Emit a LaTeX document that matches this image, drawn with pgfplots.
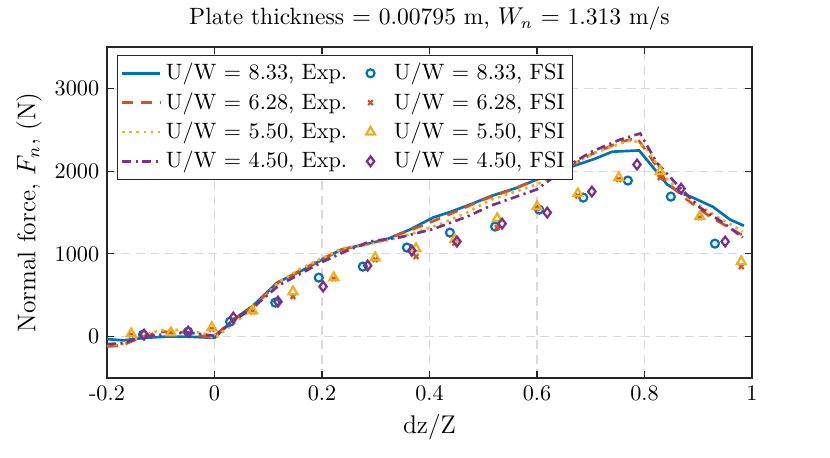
\documentclass[border=0pt]{standalone}
\usepackage{pgfplots}
\pgfplotsset{compat=1.18}
\definecolor{mblue}{rgb}{0,0.447,0.741}
\definecolor{morange}{rgb}{0.85,0.325,0.098}
\definecolor{myellow}{rgb}{0.929,0.694,0.125}
\definecolor{mpurple}{rgb}{0.494,0.184,0.556}
\definecolor{maxis}{rgb}{0.15,0.15,0.15}
\pgfplotsset{fsimark/.style={legend image code/.code={\path[draw=none,fill=none] (0cm,0cm) -- (0.6cm,0cm); \draw[##1,only marks] plot coordinates {(0.3cm,0cm)};}}}
\begin{document}
\begin{tikzpicture}
\begin{axis}[
  at={(0,0)}, anchor=south west,
  scale only axis, width=290.25pt, height=148.95pt,
  xmin=-0.2, xmax=1.0, ymin=-500, ymax=3500,
  xtick={-0.2,0,0.2,0.4,0.6,0.8,1},
  xticklabels={\textrm{-0.2},0,0.2,0.4,0.6,0.8,1},
  ytick={0,1000,2000,3000},
  /pgf/number format/1000 sep={},
  tick align=inside, major tick length=3pt,
  axis line style={maxis, line width=0.5pt},
  every tick/.style={maxis, line width=0.5pt},
  grid=major,
  major grid style={gray!30, dash pattern=on 4pt off 2.5pt, line width=0.5pt},
  title={Plate thickness $=$ 0.00795 m, $W_n$ $=$ 1.313 m/s},
  title style={font=\fontsize{10.6}{12}\selectfont, yshift=-2pt},
  xlabel={dz/Z}, ylabel={Normal force, $F_n$, (N)},
  xlabel style={font=\fontsize{11.5}{13}\selectfont, yshift=1pt},
  ylabel style={font=\fontsize{11.5}{13}\selectfont, yshift=-1pt},
  legend columns=2,
  legend style={at={(0.0155,0.976)}, anchor=north west, draw=maxis, line width=0.5pt,
    font=\normalsize, row sep=0.2pt, inner sep=1.5pt,
    /tikz/every even column/.append style={column sep=0pt}},
  legend cell align=left,
]
\addplot[mblue, line width=1.2pt] coordinates {
(-0.2,-30) (-0.17,-45) (-0.13,-15) (-0.09,0) (-0.05,0) (0.0,-15) (0.034,200) (0.072,375)
(0.116,650) (0.16,790) (0.2,930) (0.235,1050) (0.276,1110) (0.32,1175) (0.364,1295)
(0.407,1440) (0.44,1510) (0.481,1610) (0.515,1700) (0.563,1800) (0.6,1900) (0.667,2060)
(0.708,2150) (0.74,2235) (0.79,2250) (0.842,1840) (0.866,1740) (0.89,1680) (0.927,1570)
(0.959,1415) (0.985,1340)};
\addlegendentry{U/W $=$ 8.33, Exp.}
\addplot[only marks, mark=o, mark size=1.8pt, mblue, line width=1pt, fsimark] coordinates {
(-0.133,24) (-0.049,60) (0.029,181) (0.113,411) (0.194,713) (0.276,846) (0.358,1076)
(0.438,1257) (0.522,1330) (0.604,1535) (0.686,1680) (0.769,1886) (0.849,1692) (0.931,1124)};
\addlegendentry{U/W $=$ 8.33, FSI}
\addplot[morange, line width=1.2pt, dash pattern=on 5pt off 3.5pt] coordinates {
(-0.2,-120) (-0.17,-100) (-0.13,10) (-0.1,60) (-0.05,50) (-0.005,-20) (0.034,200) (0.075,380)
(0.12,660) (0.16,800) (0.2,940) (0.24,1060) (0.28,1110) (0.32,1180) (0.382,1330) (0.438,1480)
(0.494,1640) (0.55,1770) (0.6,1900) (0.667,2080) (0.7,2200) (0.754,2350) (0.786,2400)
(0.81,2180) (0.842,1860) (0.879,1655) (0.922,1450) (0.981,1230)};
\addlegendentry{U/W $=$ 6.28, Exp.}
\addplot[only marks, mark=x, mark size=1.5pt, morange, line width=1pt, fsimark] coordinates {
(-0.155,20) (-0.081,40) (-0.005,90) (0.071,300) (0.146,484) (0.222,700) (0.299,930)
(0.375,967) (0.447,1130) (0.526,1318) (0.6,1550) (0.676,1700) (0.752,1900) (0.829,1922)
(0.903,1440) (0.98,846)};
\addlegendentry{U/W $=$ 6.28, FSI}
\addplot[myellow, line width=1.2pt, dotted] coordinates {
(-0.2,-100) (-0.17,-90) (-0.13,20) (-0.1,80) (-0.06,80) (-0.02,40) (0.0,-20) (0.034,150)
(0.075,360) (0.12,660) (0.16,820) (0.2,950) (0.24,1070) (0.28,1110) (0.32,1160) (0.37,1250)
(0.42,1360) (0.47,1500) (0.513,1650) (0.6,1840) (0.667,2080) (0.7,2200) (0.754,2330) (0.779,2380)
(0.805,2260) (0.842,1900) (0.885,1655) (0.935,1450) (0.983,1270)};
\addlegendentry{U/W $=$ 5.50, Exp.}
\addplot[only marks, mark=triangle, mark size=2.3pt, myellow, line width=1pt, fsimark] coordinates {
(-0.155,36) (-0.081,48) (-0.005,109) (0.071,314) (0.146,544) (0.222,713) (0.299,955)
(0.375,1064) (0.447,1173) (0.526,1427) (0.6,1572) (0.676,1729) (0.752,1922) (0.829,1995)
(0.903,1451) (0.98,907)};
\addlegendentry{U/W $=$ 5.50, FSI}
\addplot[mpurple, line width=1.2pt, dash pattern=on 4pt off 2pt on 1pt off 2pt] coordinates {
(-0.2,-90) (-0.17,-80) (-0.13,0) (-0.09,30) (-0.05,50) (0.0,10) (0.034,180) (0.075,370)
(0.12,620) (0.16,760) (0.2,900) (0.24,1020) (0.289,1150) (0.345,1200) (0.407,1300) (0.47,1450)
(0.513,1580) (0.6,1780) (0.667,2100) (0.7,2230) (0.754,2380) (0.792,2455) (0.823,2100)
(0.866,1800) (0.903,1560) (0.946,1378) (0.983,1197)};
\addlegendentry{U/W $=$ 4.50, Exp.}
\addplot[only marks, mark=diamond, mark size=2.2pt, mpurple, line width=1pt, fsimark] coordinates {
(-0.131,24) (-0.049,60) (0.035,230) (0.118,423) (0.202,605) (0.285,858) (0.367,1040)
(0.451,1149) (0.535,1366) (0.619,1499) (0.702,1753) (0.786,2080) (0.868,1789) (0.95,1149)};
\addlegendentry{U/W $=$ 4.50, FSI}
\end{axis}
\pgfresetboundingbox
\path[use as bounding box] (-48.15pt,-35.55pt) rectangle (325.35pt,170.1pt);
\end{tikzpicture}
\end{document}
